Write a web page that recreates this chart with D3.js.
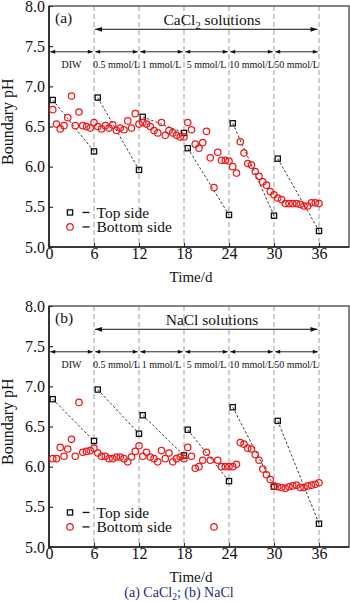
<!DOCTYPE html>
<html>
<head>
<meta charset="utf-8">
<script src="https://cdn.jsdelivr.net/npm/d3@7"></script>
<style>
  body { margin: 0; background: #fff; }
  svg { display: block; }
  text { font-family: "Liberation Serif", "Times New Roman", serif; fill: #111; }
</style>
</head>
<body>
<svg id="chart" width="350" height="602"></svg>
<script>
// ---- data ----
const xTicks = [0, 6, 12, 18, 24, 30, 36];
const yTicks = [5.0, 5.5, 6.0, 6.5, 7.0, 7.5, 8.0];
const stageBounds = [0, 6, 12, 18, 24, 30, 36];
const stageLabels = ["DIW", "0.5 mmol/L", "1 mmol/L", "5 mmol/L", "10 mmol/L", "50 mmol/L"];

// top-side samples: first and last day of every stage
const topDays = [0.5, 6, 6.5, 12, 12.5, 18, 18.5, 24, 24.5, 30, 30.5, 36];
const topPhCaCl2 = [6.83, 6.19, 6.86, 5.96, 6.62, 6.42, 6.23, 5.40, 6.54, 5.39, 6.10, 5.20];
const topPhNaCl  = [6.84, 6.32, 6.96, 6.41, 6.64, 6.14, 6.46, 5.82, 6.74, 5.75, 6.57, 5.29];

// bottom-side samples, every half day
const sampleDays = [
  0.5, 1, 1.5, 2, 2.5, 3, 3.5, 4, 4.5, 5, 5.5, 6,
  6.5, 7, 7.5, 8, 8.5, 9, 9.5, 10, 10.5, 11, 11.5, 12,
  12.5, 13, 13.5, 14, 14.5, 15, 15.5, 16, 16.5, 17, 17.5, 18,
  18.5, 19, 19.5, 20, 20.5, 21, 21.5, 22, 22.5, 23, 23.5, 24,
  24.5, 25, 25.5, 26, 26.5, 27, 27.5, 28, 28.5, 29, 29.5, 30,
  30.5, 31, 31.5, 32, 32.5, 33, 33.5, 34, 34.5, 35, 35.5, 36
];
const bottomPhCaCl2 = [
  6.71, 6.53, 6.47, 6.51, 6.61, 6.88, 6.51, 6.68, 6.51, 6.50, 6.48, 6.55,
  6.50, 6.47, 6.51, 6.48, 6.52, 6.45, 6.48, 6.46, 6.57, 6.48, 6.66, 6.53,
  6.55, 6.53, 6.50, 6.45, 6.42, 6.55, 6.39, 6.45, 6.42, 6.39, 6.37, 6.37,
  6.55, 6.46, 6.28, 6.23, 6.30, 6.44, 6.11, 5.74, 6.18, 6.08, 6.08, 6.07,
  6.00, 5.92, 6.31, 6.17, 6.04, 6.02, 5.94, 5.88, 5.81, 5.77, 5.69, 5.65,
  5.61, 5.59, 5.54, 5.54, 5.54, 5.54, 5.53, 5.51, 5.51, 5.55, 5.55, 5.54
];
const bottomPhNaCl = [
  6.10, 6.10, 6.24, 6.13, 6.22, 6.34, 6.13, 6.80, 6.18, 6.19, 6.20, 6.23,
  6.17, 6.13, 6.13, 6.10, 6.10, 6.12, 6.12, 6.10, 6.06, 6.12, 6.19, 6.26,
  6.13, 6.18, 6.12, 6.10, 6.06, 6.20, 6.10, 6.17, 6.06, 6.10, 6.12, 6.10,
  6.24, 6.13, 5.98, 6.00, 6.08, 6.18, 6.08, 5.25, 6.08, 6.00, 6.00, 6.00,
  6.00, 6.03, 6.30, 6.28, 6.23, 6.22, 6.15, 6.08, 5.97, 5.90, 5.84, 5.76,
  5.75, 5.74, 5.73, 5.75, 5.76, 5.77, 5.74, 5.74, 5.76, 5.77, 5.78, 5.80
];

const panels = [
  { tag: "(a)", salt: "CaCl", sub: "2", top: topPhCaCl2, bottom: bottomPhCaCl2, py8: 6, py5: 247 },
  { tag: "(b)", salt: "NaCl", sub: "",  top: topPhNaCl,  bottom: bottomPhNaCl,  py8: 306, py5: 547 }
];

// ---- drawing ----
const svg = d3.select("#chart");
const x = d3.scaleLinear().domain([0, 40]).range([49, 349]);
const RED = "#f01818";

function arrowHead(g, tipX, tipY, dir, len, half) {
  const bx = tipX - dir * len;
  g.append("path")
    .attr("d", `M${tipX},${tipY}L${bx},${tipY - half}L${bx},${tipY + half}Z`)
    .attr("fill", "#111");
}

function doubleArrow(g, x0, x1, yy, len, half, width) {
  g.append("line").attr("x1", x0).attr("x2", x1).attr("y1", yy).attr("y2", yy)
    .attr("stroke", "#111").attr("stroke-width", width);
  arrowHead(g, x0, yy, -1, len, half);
  arrowHead(g, x1, yy, 1, len, half);
}

panels.forEach(p => {
  const y = d3.scaleLinear().domain([5, 8]).range([p.py5, p.py8]);
  const g = svg.append("g");

  // stage separators
  g.selectAll("line.sep").data(stageBounds.slice(1)).join("line")
    .attr("class", "sep")
    .attr("x1", d => x(d)).attr("x2", d => x(d))
    .attr("y1", y(8)).attr("y2", y(5))
    .attr("stroke", "#b4b4b4").attr("stroke-width", 1.3)
    .attr("stroke-dasharray", "5,3");

  // axes
  const yAxis = d3.axisLeft(y).tickValues(yTicks).tickSize(-4).tickPadding(4)
    .tickFormat(d3.format(".1f"));
  const gy = g.append("g").attr("transform", `translate(${x(0)},0)`).call(yAxis);
  const xAxis = d3.axisBottom(x).tickValues(xTicks).tickSize(-4).tickPadding(1);
  const gx = g.append("g").attr("transform", `translate(0,${y(5)})`).call(xAxis);
  [gx, gy].forEach(a => {
    a.select(".domain").remove();
    a.selectAll(".tick line").attr("stroke", "#333").attr("stroke-width", 1.2);
    a.selectAll(".tick text").attr("font-size", 16).attr("fill", "#111")
      .attr("font-family", '"Liberation Serif", serif');
  });

  // frame
  g.append("rect")
    .attr("x", x(0)).attr("y", y(8))
    .attr("width", x(40) - x(0)).attr("height", y(5) - y(8))
    .attr("fill", "none").attr("stroke", "#444").attr("stroke-width", 1.3);
  g.append("path")
    .attr("d", `M${x(0)},${y(8)}V${y(5)}H${x(40)}`)
    .attr("fill", "none").attr("stroke", "#222").attr("stroke-width", 1.6);

  // panel tag and solution arrow
  g.append("text").attr("x", 55).attr("y", y(7.85)).attr("dy", "0.35em")
    .attr("font-size", 15.5).text(p.tag);
  const title = g.append("text").attr("x", 212).attr("y", y(7.834)).attr("dy", "0.35em")
    .attr("text-anchor", "middle").attr("font-size", 15.5);
  title.append("tspan").text(p.salt);
  if (p.sub) {
    title.append("tspan").attr("dy", 4).attr("font-size", 10.5).text(p.sub);
    title.append("tspan").attr("dy", -4).text(" solutions");
  } else {
    title.append("tspan").text(" solutions");
  }
  doubleArrow(g, x(6) + 1, x(36) - 1.5, y(7.71), 7, 2.4, 1);

  // stage arrows and labels
  stageLabels.forEach((lab, i) => {
    const a = stageBounds[i], b = stageBounds[i + 1];
    doubleArrow(g, x(a) + 1.2, x(b) - 1.2, y(7.43), 5, 2, 0.9);
    g.append("text").attr("x", x((a + b) / 2)).attr("y", y(7.27)).attr("dy", "0.35em")
      .attr("text-anchor", "middle").attr("font-size", 10).text(lab);
  });

  // top side: dashed trend within each stage
  const topPts = topDays.map((d, i) => [d, p.top[i]]);
  const pairs = d3.range(0, topPts.length, 2).map(i => [topPts[i], topPts[i + 1]]);
  g.selectAll("line.trend").data(pairs).join("line")
    .attr("class", "trend")
    .attr("x1", d => x(d[0][0])).attr("y1", d => y(d[0][1]))
    .attr("x2", d => x(d[1][0])).attr("y2", d => y(d[1][1]))
    .attr("stroke", "#222").attr("stroke-width", 0.9).attr("stroke-dasharray", "2.5,2");

  const S = 5.2;
  g.selectAll("rect.top").data(topPts).join("rect")
    .attr("class", "top")
    .attr("x", d => x(d[0]) - S / 2).attr("y", d => y(d[1]) - S / 2)
    .attr("width", S).attr("height", S)
    .attr("fill", "none").attr("stroke", "#111").attr("stroke-width", 1.3);

  // bottom side circles
  const botPts = sampleDays.map((d, i) => [d, p.bottom[i]]);
  g.selectAll("circle.bot").data(botPts).join("circle")
    .attr("class", "bot")
    .attr("cx", d => x(d[0])).attr("cy", d => y(d[1])).attr("r", 3.2)
    .attr("fill", "none").attr("stroke", RED).attr("stroke-width", 1.25);

  // legend
  const ly1 = y(5.43), ly2 = y(5.25);
  g.append("rect").attr("x", 70 - S / 2).attr("y", ly1 - S / 2).attr("width", S).attr("height", S)
    .attr("fill", "none").attr("stroke", "#111").attr("stroke-width", 1.3);
  g.append("circle").attr("cx", 70).attr("cy", ly2).attr("r", 3.2)
    .attr("fill", "none").attr("stroke", RED).attr("stroke-width", 1.25);
  [ly1, ly2].forEach((ly, i) => {
    g.append("line").attr("x1", 82.5).attr("x2", 89.5).attr("y1", ly).attr("y2", ly)
      .attr("stroke", "#111").attr("stroke-width", 1.3);
    g.append("text").attr("x", 96.5).attr("y", ly).attr("dy", "0.35em")
      .attr("font-size", 15.5).text(i === 0 ? "Top side" : "Bottom side");
  });

  // axis titles
  g.append("text").attr("x", 191).attr("y", y(5) + 30).attr("dy", "0.35em")
    .attr("text-anchor", "middle").attr("font-size", 15).text("Time/d");
  g.append("text")
    .attr("transform", `translate(12.5,${y(6.56)}) rotate(-90)`)
    .attr("text-anchor", "middle").attr("font-size", 16).text("Boundary pH");
});

// caption
const cap = svg.append("text").attr("x", 179).attr("y", 592).attr("dy", "0.35em")
  .attr("text-anchor", "middle").attr("font-size", 14).style("fill", "#1c2a7c");
cap.append("tspan").text("(a) CaCl");
cap.append("tspan").attr("dy", 3).attr("font-size", 9.5).text("2");
cap.append("tspan").attr("dy", -3).text("; (b) NaCl");
</script>
</body>
</html>
